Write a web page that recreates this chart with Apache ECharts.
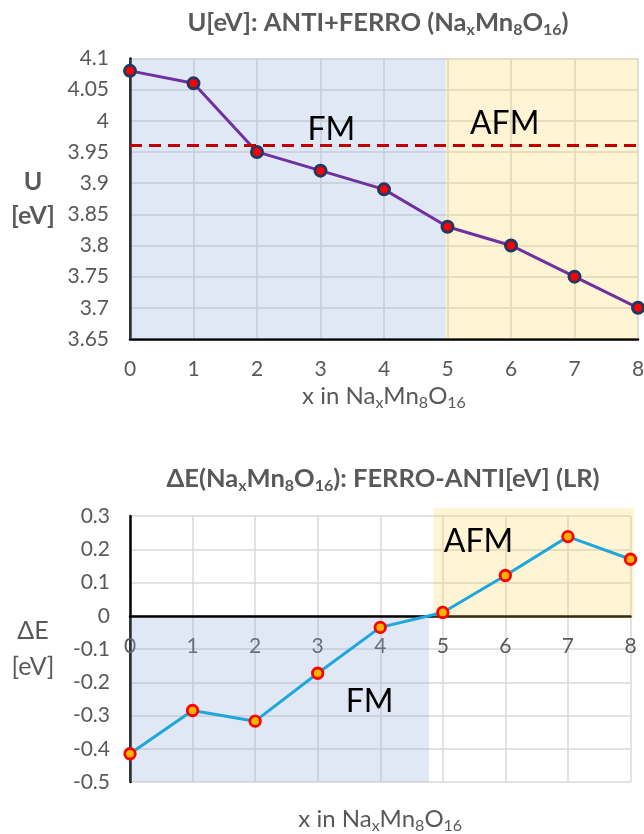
<!DOCTYPE html>
<html>
<head>
<meta charset="utf-8">
<script src="https://cdn.jsdelivr.net/npm/echarts@6/dist/echarts.min.js"></script>
<style>
  html, body { margin: 0; padding: 0; background: #ffffff; }
  #main { width: 644px; height: 834px; }
</style>
</head>
<body>
<div id="main"></div>
<script>
// Sodium content x in NaxMn8O16
const xValues = [0, 1, 2, 3, 4, 5, 6, 7, 8];

// Upper panel: Hubbard U (eV) for the combined ANTI+FERRO fit
const uValues = [4.08, 4.06, 3.95, 3.92, 3.89, 3.83, 3.80, 3.75, 3.70];
const uReference = 3.955;
const uTickValues = [3.65, 3.7, 3.75, 3.8, 3.85, 3.9, 3.95, 4, 4.05, 4.1];

// Lower panel: energy difference FERRO-ANTI (eV)
const dEValues = [-0.415, -0.285, -0.317, -0.173, -0.035, 0.01, 0.121, 0.238, 0.17];
const dETickValues = [-0.5, -0.4, -0.3, -0.2, -0.1, 0, 0.1, 0.2, 0.3];

// Magnetic regimes: [xFrom, xTo, yFrom, yTo]
const uRegionFM = [0, 4.97, 3.65, 4.1];
const uRegionAFM = [4.97, 8, 3.65, 4.1];
const dERegionFM = [0, 4.78, -0.5, -0.007];
const dERegionAFM = [4.85, 8.06, -0.006, 0.323];

// Regime captions: [x, y]
const uLabelFM = [3.17, 3.985];
const uLabelAFM = [5.9, 3.996];
const dELabelFM = [3.83, -0.259];
const dELabelAFM = [5.57, 0.222];

const FONT = 'Lato, "Open Sans", sans-serif';
const GREY = '#595959';
const FILL_FM = 'rgba(143,170,220,0.28)';
const FILL_AFM = 'rgba(255,204,60,0.22)';

const TOP_GRID = { left: 130, right: 6, top: 58.4, height: 280.6 };
const BOTTOM_GRID = { left: 130, right: 13.5, top: 516, height: 266 };

const chart = echarts.init(document.getElementById('main'), null, { renderer: 'canvas' });

const fmt = v => String(+(+v).toFixed(2));
const stepOf = arr => +(arr[1] - arr[0]).toFixed(4);

// The lower x axis sits on the zero line: shift it up from the grid bottom
const dEMin = dETickValues[0], dEMax = dETickValues[dETickValues.length - 1];
const zeroShift = BOTTOM_GRID.height * (0 - dEMin) / (dEMax - dEMin);

function regionSeries(xi, yi, regions) {
  return {
    type: 'custom',
    xAxisIndex: xi,
    yAxisIndex: yi,
    silent: true,
    clip: false,
    z: 1,
    encode: { x: [0, 1], y: [2, 3] },
    data: regions.map((r, i) => r.concat([i])),
    renderItem: (params, api) => {
      const a = api.coord([api.value(0), api.value(3)]);
      const b = api.coord([api.value(1), api.value(2)]);
      return {
        type: 'rect',
        shape: { x: a[0], y: a[1], width: b[0] - a[0], height: b[1] - a[1] },
        style: { fill: api.value(4) === 0 ? FILL_FM : FILL_AFM }
      };
    }
  };
}

function caption(coord, text) {
  return {
    name: text,
    coord: coord,
    symbol: 'circle',
    symbolSize: 0,
    itemStyle: { color: 'transparent' },
    label: {
      show: true, position: 'inside', formatter: text,
      color: '#000', fontFamily: FONT, fontSize: 32, textBorderWidth: 0
    }
  };
}

const nameRich = { sub: { fontFamily: FONT, fontSize: 16, color: GREY, lineHeight: 18, padding: [13, 0, 0, 0] } };

const xAxisCommon = {
  type: 'value', min: xValues[0], max: xValues[xValues.length - 1], interval: 1,
  axisTick: { show: false },
  axisLine: { onZero: false, lineStyle: { color: '#000', width: 2.5 } },
  splitLine: { show: true, lineStyle: { color: '#d9d9d9', width: 1.5 } },
  axisLabel: { color: GREY, fontFamily: FONT, fontSize: 21, margin: 20 },
  nameLocation: 'middle',
  nameMoveOverlap: false,
  nameTextStyle: { color: GREY, fontFamily: FONT, fontSize: 24, lineHeight: 28, rich: nameRich }
};

const titleRich = { sub: { font: 'bold 16px ' + FONT, fill: GREY, lineHeight: 16, padding: [14, 0, 0, 0] } };

const option = {
  animation: false,
  backgroundColor: '#ffffff',
  grid: [
    Object.assign({ containLabel: false, outerBoundsMode: 'none' }, TOP_GRID),
    Object.assign({ containLabel: false, outerBoundsMode: 'none' }, BOTTOM_GRID)
  ],
  xAxis: [
    Object.assign({}, xAxisCommon, {
      gridIndex: 0,
      name: 'x in Na{sub|x}Mn{sub|8}O{sub|16}',
      nameGap: 43
    }),
    Object.assign({}, xAxisCommon, {
      gridIndex: 1,
      offset: -zeroShift,
      name: 'x in Na{sub|x}Mn{sub|8}O{sub|16}',
      nameGap: 190
    })
  ],
  yAxis: [
    {
      type: 'value', gridIndex: 0,
      min: uTickValues[0], max: uTickValues[uTickValues.length - 1], interval: stepOf(uTickValues),
      axisLine: { show: true, onZero: false, lineStyle: { color: '#000', width: 2.5 } },
      axisTick: { show: false },
      splitLine: { show: true, lineStyle: { color: '#d9d9d9', width: 1.5 } },
      axisLabel: { color: GREY, fontFamily: FONT, fontSize: 21, margin: 21, formatter: fmt },
      name: 'U\n[eV]',
      nameLocation: 'middle', nameRotate: 0, nameGap: 97,
      nameTextStyle: { color: GREY, fontFamily: FONT, fontSize: 25, fontWeight: 'bold', lineHeight: 34, align: 'center', verticalAlign: 'middle', padding: [4, 0, 0, 0] }
    },
    {
      type: 'value', gridIndex: 1,
      min: dEMin, max: dEMax, interval: stepOf(dETickValues),
      axisLine: { show: true, onZero: false, lineStyle: { color: '#000', width: 2.5 } },
      axisTick: { show: false },
      splitLine: { show: true, lineStyle: { color: '#d9d9d9', width: 1.5 } },
      axisLabel: { color: GREY, fontFamily: FONT, fontSize: 21, margin: 20, formatter: fmt },
      name: 'ΔE\n[eV]',
      nameLocation: 'middle', nameRotate: 0, nameGap: 97,
      nameTextStyle: { color: GREY, fontFamily: FONT, fontSize: 25, lineHeight: 36, align: 'center', verticalAlign: 'middle' }
    }
  ],
  graphic: [
    {
      type: 'text', x: 378, y: 23,
      style: {
        text: 'U[eV]: ANTI+FERRO (Na{sub|x}Mn{sub|8}O{sub|16})',
        fill: GREY, font: 'bold 25.5px ' + FONT, align: 'center', verticalAlign: 'middle',
        lineHeight: 32, rich: titleRich
      }
    },
    {
      type: 'text', x: 383, y: 479,
      style: {
        text: 'ΔE(Na{sub|x}Mn{sub|8}O{sub|16}): FERRO-ANTI[eV] (LR)',
        fill: GREY, font: 'bold 25.5px ' + FONT, align: 'center', verticalAlign: 'middle',
        lineHeight: 32, rich: titleRich
      }
    }
  ],
  series: [
    regionSeries(0, 0, [uRegionFM, uRegionAFM]),
    regionSeries(1, 1, [dERegionFM, dERegionAFM]),
    {
      type: 'line', xAxisIndex: 0, yAxisIndex: 0, z: 3,
      data: xValues.map((x, i) => [x, uValues[i]]),
      lineStyle: { color: '#7030a0', width: 3 },
      symbol: 'circle', symbolSize: 11,
      itemStyle: { color: '#ff0000', borderColor: '#1f3864', borderWidth: 3 },
      markLine: {
        silent: true, symbol: 'none', label: { show: false },
        lineStyle: { color: '#c00000', width: 3, type: [12, 7] },
        data: [{ yAxis: uReference }]
      },
      markPoint: {
        silent: true,
        data: [caption(uLabelFM, 'FM'), caption(uLabelAFM, 'AFM')]
      }
    },
    {
      type: 'line', xAxisIndex: 1, yAxisIndex: 1, z: 3,
      data: xValues.map((x, i) => [x, dEValues[i]]),
      lineStyle: { color: '#1ea7dc', width: 3 },
      symbol: 'circle', symbolSize: 10.5,
      itemStyle: { color: '#f5b400', borderColor: '#ff0000', borderWidth: 2.8 },
      markPoint: {
        silent: true,
        data: [caption(dELabelFM, 'FM'), caption(dELabelAFM, 'AFM')]
      }
    }
  ]
};

chart.setOption(option);
</script>
</body>
</html>
